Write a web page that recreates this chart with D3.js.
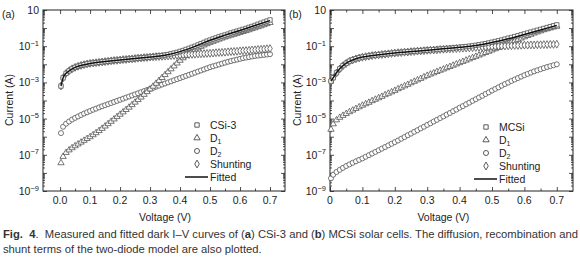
<!DOCTYPE html>
<html>
<head>
<meta charset="utf-8">
<script src="https://cdn.jsdelivr.net/npm/d3@7"></script>
<style>
  body { margin: 0; background: #fff; }
  svg { display: block; font-family: 'Liberation Sans', Arial, sans-serif; }
  text { white-space: pre; }
</style>
</head>
<body>
<div id="chart"></div>
<script>
'use strict'

// bias voltage (V), one point every 10 mV
var voltage = [0.003, 0.01, 0.02, 0.03, 0.04, 0.05, 0.06, 0.07, 0.08, 0.09,
  0.10, 0.11, 0.12, 0.13, 0.14, 0.15, 0.16, 0.17, 0.18, 0.19,
  0.20, 0.21, 0.22, 0.23, 0.24, 0.25, 0.26, 0.27, 0.28, 0.29,
  0.30, 0.31, 0.32, 0.33, 0.34, 0.35, 0.36, 0.37, 0.38, 0.39,
  0.40, 0.41, 0.42, 0.43, 0.44, 0.45, 0.46, 0.47, 0.48, 0.49,
  0.50, 0.51, 0.52, 0.53, 0.54, 0.55, 0.56, 0.57, 0.58, 0.59,
  0.60, 0.61, 0.62, 0.63, 0.64, 0.65, 0.66, 0.67, 0.68, 0.69, 0.70]

// all currents below are log10 of current (A)

// (a) CSi-3
var csiMeasured = [-3.20, -2.75, -2.50, -2.36, -2.25, -2.17, -2.11, -2.06, -2.02, -1.98,
  -1.95, -1.93, -1.91, -1.89, -1.87, -1.85, -1.83, -1.81, -1.79, -1.78,
  -1.76, -1.74, -1.73, -1.71, -1.70, -1.68, -1.66, -1.65, -1.63, -1.62,
  -1.60, -1.58, -1.56, -1.54, -1.52, -1.49, -1.46, -1.42, -1.38, -1.34,
  -1.29, -1.24, -1.18, -1.12, -1.06, -1.00, -0.93, -0.86, -0.79, -0.72,
  -0.66, -0.60, -0.54, -0.48, -0.43, -0.38, -0.33, -0.27, -0.22, -0.17,
  -0.12, -0.07, -0.02, 0.04, 0.09, 0.15, 0.21, 0.27, 0.33, 0.39, 0.45]
var csiD1 = [-7.45, -7.10, -6.88, -6.74, -6.62, -6.51, -6.41, -6.31, -6.21, -6.11,
  -6.01, -5.90, -5.79, -5.67, -5.55, -5.42, -5.29, -5.16, -5.03, -4.90,
  -4.77, -4.64, -4.51, -4.38, -4.24, -4.10, -3.96, -3.82, -3.67, -3.52,
  -3.37, -3.22, -3.06, -2.90, -2.74, -2.58, -2.42, -2.26, -2.10, -1.94,
  -1.79, -1.65, -1.52, -1.40, -1.29, -1.19, -1.10, -1.02, -0.94, -0.87,
  -0.80, -0.74, -0.68, -0.62, -0.56, -0.50, -0.45, -0.40, -0.35, -0.30,
  -0.25, -0.20, -0.15, -0.10, -0.04, 0.01, 0.07, 0.12, 0.18, 0.24, 0.30]
var csiD2 = [-5.80, -5.45, -5.28, -5.16, -5.05, -4.96, -4.88, -4.80, -4.72, -4.65,
  -4.58, -4.51, -4.45, -4.38, -4.32, -4.26, -4.20, -4.14, -4.08, -4.02,
  -3.96, -3.90, -3.84, -3.78, -3.72, -3.66, -3.60, -3.54, -3.48, -3.42,
  -3.36, -3.30, -3.24, -3.18, -3.12, -3.06, -3.00, -2.94, -2.88, -2.82,
  -2.76, -2.70, -2.64, -2.58, -2.52, -2.46, -2.40, -2.34, -2.28, -2.22,
  -2.16, -2.11, -2.06, -2.01, -1.96, -1.91, -1.86, -1.82, -1.78, -1.74,
  -1.70, -1.66, -1.63, -1.60, -1.57, -1.54, -1.52, -1.50, -1.48, -1.46, -1.44]
var csiShunt = [-3.20, -2.75, -2.50, -2.36, -2.25, -2.17, -2.11, -2.06, -2.02, -1.98,
  -1.95, -1.93, -1.91, -1.89, -1.87, -1.85, -1.83, -1.81, -1.79, -1.78,
  -1.76, -1.74, -1.73, -1.71, -1.70, -1.68, -1.66, -1.65, -1.63, -1.62,
  -1.60, -1.59, -1.58, -1.57, -1.56, -1.55, -1.54, -1.52, -1.51, -1.50,
  -1.49, -1.48, -1.47, -1.46, -1.45, -1.44, -1.43, -1.42, -1.41, -1.40,
  -1.39, -1.38, -1.36, -1.35, -1.34, -1.33, -1.31, -1.30, -1.29, -1.28,
  -1.26, -1.25, -1.24, -1.23, -1.21, -1.20, -1.18, -1.17, -1.16, -1.14, -1.13]
var csiFitV = [0.003, 0.01, 0.02, 0.03, 0.05, 0.08, 0.10, 0.15, 0.20, 0.25, 0.30,
  0.35, 0.40, 0.45, 0.50, 0.55, 0.60, 0.65, 0.70]
var csiFit = [-3.20, -2.75, -2.50, -2.36, -2.17, -2.02, -1.95, -1.85, -1.76, -1.68, -1.60,
  -1.50, -1.30, -1.01, -0.67, -0.39, -0.13, 0.14, 0.42]

// (b) MCSi
var mcsiMeasured = [-2.93, -2.74, -2.47, -2.25, -2.07, -1.94, -1.83, -1.75, -1.69, -1.64,
  -1.60, -1.57, -1.54, -1.51, -1.49, -1.47, -1.45, -1.43, -1.41, -1.39,
  -1.37, -1.35, -1.34, -1.32, -1.31, -1.29, -1.28, -1.26, -1.25, -1.23,
  -1.22, -1.20, -1.19, -1.18, -1.16, -1.15, -1.13, -1.12, -1.10, -1.08,
  -1.06, -1.04, -1.02, -1.00, -0.98, -0.95, -0.92, -0.89, -0.86, -0.82,
  -0.78, -0.74, -0.70, -0.66, -0.61, -0.56, -0.52, -0.47, -0.42, -0.37,
  -0.32, -0.27, -0.22, -0.17, -0.12, -0.07, -0.02, 0.03, 0.08, 0.13, 0.18]
var mcsiD1 = [-5.60, -5.30, -5.08, -4.94, -4.83, -4.73, -4.63, -4.54, -4.45, -4.36,
  -4.27, -4.19, -4.11, -4.02, -3.94, -3.86, -3.78, -3.69, -3.61, -3.53,
  -3.45, -3.36, -3.28, -3.20, -3.12, -3.03, -2.95, -2.87, -2.79, -2.70,
  -2.62, -2.55, -2.48, -2.41, -2.34, -2.27, -2.20, -2.13, -2.06, -1.99,
  -1.92, -1.85, -1.78, -1.71, -1.64, -1.57, -1.50, -1.43, -1.36, -1.29,
  -1.22, -1.15, -1.08, -1.00, -0.93, -0.86, -0.78, -0.71, -0.63, -0.56,
  -0.49, -0.42, -0.35, -0.28, -0.22, -0.16, -0.10, -0.05, 0.00, 0.05, 0.09]
var mcsiD2 = [-8.30, -8.10, -7.95, -7.83, -7.72, -7.62, -7.53, -7.44, -7.36, -7.28,
  -7.20, -7.11, -7.02, -6.93, -6.84, -6.75, -6.66, -6.57, -6.48, -6.39,
  -6.30, -6.21, -6.11, -6.02, -5.92, -5.83, -5.73, -5.64, -5.54, -5.45,
  -5.35, -5.26, -5.16, -5.07, -4.97, -4.88, -4.78, -4.69, -4.59, -4.50,
  -4.40, -4.31, -4.21, -4.12, -4.02, -3.93, -3.83, -3.74, -3.64, -3.55,
  -3.45, -3.36, -3.27, -3.18, -3.09, -3.01, -2.92, -2.84, -2.76, -2.68,
  -2.60, -2.53, -2.46, -2.39, -2.33, -2.27, -2.21, -2.15, -2.10, -2.05, -2.00]
var mcsiShunt = [-2.95, -2.75, -2.48, -2.26, -2.08, -1.95, -1.84, -1.76, -1.70, -1.65,
  -1.61, -1.58, -1.55, -1.52, -1.50, -1.48, -1.46, -1.44, -1.42, -1.40,
  -1.38, -1.36, -1.35, -1.33, -1.32, -1.30, -1.29, -1.27, -1.26, -1.25,
  -1.23, -1.22, -1.21, -1.20, -1.18, -1.17, -1.16, -1.15, -1.14, -1.13,
  -1.12, -1.11, -1.10, -1.09, -1.08, -1.07, -1.06, -1.05, -1.04, -1.03,
  -1.02, -1.01, -1.00, -0.99, -0.99, -0.98, -0.97, -0.96, -0.96, -0.95,
  -0.94, -0.94, -0.93, -0.93, -0.92, -0.92, -0.91, -0.91, -0.90, -0.90, -0.89]
var mcsiFitV = [0.003, 0.01, 0.02, 0.03, 0.05, 0.08, 0.10, 0.15, 0.20, 0.30,
  0.40, 0.45, 0.50, 0.55, 0.60, 0.65, 0.70]
var mcsiFit = [-2.93, -2.74, -2.47, -2.25, -1.94, -1.69, -1.60, -1.47, -1.37, -1.22,
  -1.06, -0.96, -0.80, -0.59, -0.35, -0.10, 0.15]

// axes
var xTicks = [0, 0.1, 0.2, 0.3, 0.4, 0.5, 0.6, 0.7]
var xMinorTicks = [0.05, 0.15, 0.25, 0.35, 0.45, 0.55, 0.65]
var yDecades = [-9, -8, -7, -6, -5, -4, -3, -2, -1, 0, 1]
var yLabelled = [1, -1, -3, -5, -7, -9]

var legendA = ['CSi-3', 'D', 'D', 'Shunting', 'Fitted']
var legendB = ['MCSi', 'D', 'D', 'Shunting', 'Fitted']
var legendSub = ['', '1', '2', '', '']

var captionLine1 = [
  ['Fig.  4', true],
  ['.  Measured and fitted dark I\u2013V curves of (', false],
  ['a', true],
  [') CSi-3 and (', false],
  ['b', true],
  [') MCSi solar cells. The diffusion, recombination and', false]
]
var captionLine2 = 'shunt terms of the two-diode model are also plotted.'

var width = 580
var height = 264
var ink = '#222'
var markInk = '#4a4a4a'

var svg = d3
  .select('#chart')
  .append('svg')
  .attr('width', width)
  .attr('height', height)

function toPoints(v, logs) {
  return v.map(function(d, i) {
    return { v: d, i: Math.pow(10, logs[i]) }
  })
}

var shapes = {
  square: d3.symbol().type(d3.symbolSquare).size(19),
  triangle: d3.symbol().type(d3.symbolTriangle).size(17),
  circle: d3.symbol().type(d3.symbolCircle).size(20),
  diamond: d3.symbol().type(d3.symbolDiamond).size(18)
}

function drawPanel(p) {
  var x = d3.scaleLinear().domain(p.xDomain).range(p.xRange)
  var y = d3.scaleLog().domain([1e-9, 10]).range([191, 10])
  var x0 = p.xRange[0]
  var x1 = p.xRange[1]
  var g = svg.append('g')

  var minorY = []
  yDecades.forEach(function(e) {
    if (e >= 1) return
    for (var k = 2; k < 10; k++) minorY.push(k * Math.pow(10, e))
  })
  var majorY = yDecades.map(function(e) {
    return Math.pow(10, e)
  })

  function tickAxis(axis, tr, size) {
    var a = g
      .append('g')
      .attr('transform', tr)
      .call(axis.tickSize(size).tickFormat(''))
    a.select('.domain').remove()
    a.selectAll('line').attr('stroke', ink).attr('stroke-width', 0.8)
  }
  tickAxis(d3.axisBottom(x).tickValues(xTicks), 'translate(0,191)', -4)
  tickAxis(d3.axisBottom(x).tickValues(xMinorTicks), 'translate(0,191)', -2.5)
  tickAxis(d3.axisTop(x).tickValues(xTicks), 'translate(0,10)', -4)
  tickAxis(d3.axisTop(x).tickValues(xMinorTicks), 'translate(0,10)', -2.5)
  tickAxis(d3.axisLeft(y).tickValues(majorY), 'translate(' + x0 + ',0)', -4)
  tickAxis(d3.axisLeft(y).tickValues(minorY), 'translate(' + x0 + ',0)', -2)
  tickAxis(d3.axisRight(y).tickValues(majorY), 'translate(' + x1 + ',0)', -4)
  tickAxis(d3.axisRight(y).tickValues(minorY), 'translate(' + x1 + ',0)', -2)

  g.append('rect')
    .attr('x', x0)
    .attr('y', 10)
    .attr('width', x1 - x0)
    .attr('height', 181)
    .attr('fill', 'none')
    .attr('stroke', ink)
    .attr('stroke-width', 1)

  // x tick labels
  g.selectAll('.xl')
    .data(xTicks)
    .enter()
    .append('text')
    .attr('x', function(d) {
      return x(d)
    })
    .attr('y', 204)
    .attr('text-anchor', 'middle')
    .attr('font-size', '10.5px')
    .attr('fill', ink)
    .text(function(d) {
      return d === 0 && p.zeroLabel ? p.zeroLabel : d.toFixed(1)
    })

  // y tick labels with superscript exponents
  var yl = g
    .selectAll('.yl')
    .data(yLabelled)
    .enter()
    .append('text')
    .attr('x', x0 - 4)
    .attr('y', function(d) {
      return y(Math.pow(10, d)) + 4
    })
    .attr('text-anchor', 'end')
    .attr('font-size', '10.5px')
    .attr('fill', ink)
  yl.append('tspan').text('10')
  yl.filter(function(d) {
    return d !== 1
  })
    .append('tspan')
    .attr('dy', -4.5)
    .attr('font-size', '7.5px')
    .text(function(d) {
      return '\u2212' + Math.abs(d)
    })

  g.append('text')
    .attr('transform', 'translate(' + p.yTitleX + ',100) rotate(-90)')
    .attr('text-anchor', 'middle')
    .attr('font-size', '10.5px')
    .attr('fill', ink)
    .text('Current (A)')
  g.append('text')
    .attr('x', (x(0) + x(0.7)) / 2)
    .attr('y', 221)
    .attr('text-anchor', 'middle')
    .attr('font-size', '10.5px')
    .attr('fill', ink)
    .text('Voltage (V)')
  g.append('text')
    .attr('x', p.tagX)
    .attr('y', 18)
    .attr('font-size', '10.5px')
    .attr('fill', ink)
    .text(p.tag)

  // marker series
  var series = [
    { pts: toPoints(voltage, p.d2), shape: shapes.circle },
    { pts: toPoints(voltage, p.d1), shape: shapes.triangle },
    { pts: toPoints(voltage, p.shunt), shape: shapes.diamond },
    { pts: toPoints(voltage, p.measured), shape: shapes.square }
  ]
  series.forEach(function(s) {
    g.append('g')
      .selectAll('path')
      .data(s.pts)
      .enter()
      .append('path')
      .attr('transform', function(d) {
        return 'translate(' + x(d.v) + ',' + y(d.i) + ')'
      })
      .attr('d', s.shape)
      .attr('fill', '#fff')
      .attr('stroke', markInk)
      .attr('stroke-width', 0.75)
  })

  var line = d3
    .line()
    .x(function(d) {
      return x(d.v)
    })
    .y(function(d) {
      return y(d.i)
    })
    .curve(d3.curveMonotoneX)
  g.append('path')
    .datum(toPoints(p.fitV, p.fit))
    .attr('d', line)
    .attr('fill', 'none')
    .attr('stroke', '#111')
    .attr('stroke-width', 1.5)

  // legend
  var lx = p.legendX
  var legendShapes = [shapes.square, shapes.triangle, shapes.circle, shapes.diamond]
  var rows = g
    .selectAll('.lg')
    .data(p.legend)
    .enter()
    .append('g')
    .attr('transform', function(d, i) {
      return 'translate(0,' + (p.legendY + i * 13) + ')'
    })
  rows.each(function(d, i) {
    var r = d3.select(this)
    if (i < 4) {
      r.append('path')
        .attr('transform', 'translate(' + lx + ',0)')
        .attr('d', legendShapes[i])
        .attr('fill', '#fff')
        .attr('stroke', markInk)
        .attr('stroke-width', 0.9)
    } else {
      r.append('line')
        .attr('x1', lx - 12)
        .attr('x2', lx + 11)
        .attr('stroke', '#111')
        .attr('stroke-width', 1.5)
    }
    var t = r
      .append('text')
      .attr('x', lx + 13)
      .attr('y', 3.5)
      .attr('font-size', '10.5px')
      .attr('fill', ink)
    t.append('tspan').text(d)
    if (legendSub[i]) {
      t.append('tspan')
        .attr('dy', 2.5)
        .attr('font-size', '7px')
        .text(legendSub[i])
    }
  })
}

drawPanel({
  xDomain: [-0.057, 0.75],
  xRange: [43, 285],
  measured: csiMeasured,
  d1: csiD1,
  d2: csiD2,
  shunt: csiShunt,
  fitV: csiFitV,
  fit: csiFit,
  legend: legendA,
  legendX: 197,
  legendY: 125,
  yTitleX: 13,
  tag: '(a)',
  tagX: 2
})

drawPanel({
  xDomain: [0, 0.75],
  xRange: [330, 573],
  zeroLabel: '0',
  measured: mcsiMeasured,
  d1: mcsiD1,
  d2: mcsiD2,
  shunt: mcsiShunt,
  fitV: mcsiFitV,
  fit: mcsiFit,
  legend: legendB,
  legendX: 486,
  legendY: 127,
  yTitleX: 301,
  tag: '(b)',
  tagX: 289
})

// caption: line 1 is squeezed to the full width, line 2 gets the same squeeze
var cap1 = svg
  .append('text')
  .attr('x', 3)
  .attr('y', 238)
  .attr('font-size', '10.5px')
  .attr('fill', '#333')
captionLine1.forEach(function(c) {
  cap1
    .append('tspan')
    .attr('font-weight', c[1] ? 'bold' : 'normal')
    .text(c[0])
})
var squeeze = 575 / cap1.node().getComputedTextLength()
cap1.attr('textLength', 575).attr('lengthAdjust', 'spacingAndGlyphs')

var cap2 = svg
  .append('text')
  .attr('x', 3)
  .attr('y', 253)
  .attr('font-size', '10.5px')
  .attr('fill', '#333')
  .text(captionLine2)
cap2
  .attr('textLength', cap2.node().getComputedTextLength() * squeeze)
  .attr('lengthAdjust', 'spacingAndGlyphs')
</script>
</body>
</html>
